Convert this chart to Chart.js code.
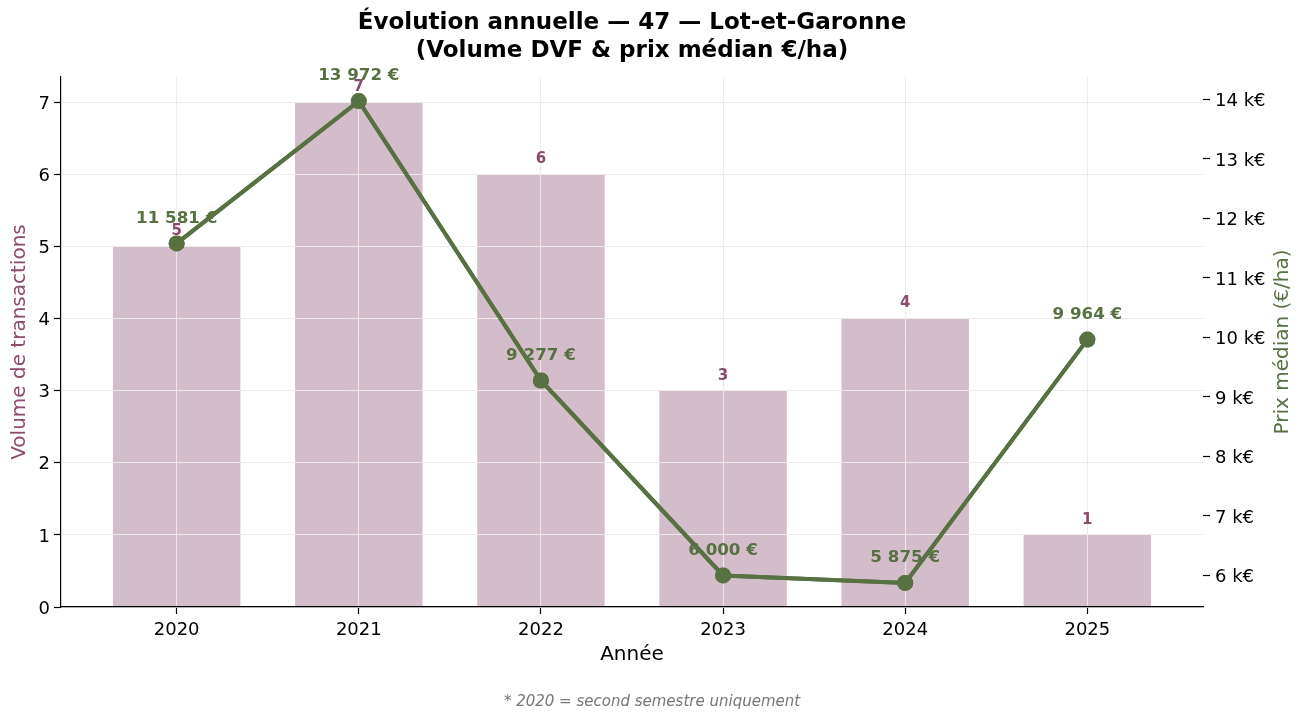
<!DOCTYPE html>
<html>
<head>
<meta charset="utf-8">
<script src="https://cdn.jsdelivr.net/npm/chart.js@4.4.0/dist/chart.umd.min.js"></script>
<style>
  html, body { margin: 0; padding: 0; background: #fff; }
  #chart { display: block; }
</style>
</head>
<body>
<canvas id="chart" width="1304" height="719" style="width:1304px;height:719px"></canvas>
<script>
// Data
const years = ['2020', '2021', '2022', '2023', '2024', '2025'];
const volumes = [5, 7, 6, 3, 4, 1];
const prices = [11581, 13972, 9277, 6000, 5875, 9964];
const volumeTicks = [0, 1, 2, 3, 4, 5, 6, 7];
const priceTicks = [6000, 7000, 8000, 9000, 10000, 11000, 12000, 13000, 14000];

const BAR_COLOR = '#d4bdca';
const MAUVE = '#8b4a6e';
const GREEN = '#587142';
const GRID = '#ebebeb';

Chart.defaults.font.family = '"DejaVu Sans", sans-serif';

function euro(v) {
    return String(v).replace(/\B(?=(\d{3})+(?!\d))/g, ' ') + ' €';
}

// Value labels, line redrawn above the grid, right axis title
const overlayPlugin = {
    id: 'overlay',
    afterDraw(chart) {
        const { ctx, scales, chartArea } = chart;

        ctx.save();
        ctx.textAlign = 'center';
        ctx.textBaseline = 'middle';
        ctx.font = 'bold 15px "DejaVu Sans"';
        ctx.fillStyle = MAUVE;
        volumes.forEach((v, i) => {
            ctx.fillText(String(v), scales.x.getPixelForValue(i), scales.y.getPixelForValue(v) - 15);
        });
        ctx.restore();

        chart.getDatasetMeta(1).controller.draw();

        ctx.save();
        ctx.textAlign = 'center';
        ctx.textBaseline = 'middle';
        ctx.font = 'bold 16.7px "DejaVu Sans"';
        ctx.fillStyle = GREEN;
        prices.forEach((p, i) => {
            ctx.fillText(euro(p), scales.x.getPixelForValue(i), scales.y1.getPixelForValue(p) - 25);
        });
        ctx.restore();

        ctx.save();
        ctx.translate(chart.width - 21, (chartArea.top + chartArea.bottom) / 2);
        ctx.rotate(-Math.PI / 2);
        ctx.textAlign = 'center';
        ctx.textBaseline = 'middle';
        ctx.font = '20px "DejaVu Sans"';
        ctx.fillStyle = GREEN;
        ctx.fillText('Prix médian (€/ha)', 0, 0);
        ctx.restore();
    }
};

new Chart(document.getElementById('chart'), {
    type: 'bar',
    data: {
        datasets: [{
            label: 'Volume',
            data: volumes.map((v, i) => ({ x: i, y: v })),
            backgroundColor: BAR_COLOR,
            barPercentage: 0.7,
            categoryPercentage: 1.0,
            xAxisID: 'x',
            yAxisID: 'y',
            order: 2
        }, {
            type: 'line',
            label: 'Prix médian',
            data: prices.map((p, i) => ({ x: i, y: p })),
            borderColor: GREEN,
            backgroundColor: GREEN,
            borderWidth: 4,
            pointRadius: 8,
            pointBorderWidth: 0,
            pointBackgroundColor: GREEN,
            tension: 0,
            xAxisID: 'x',
            yAxisID: 'y1',
            order: 1
        }]
    },
    options: {
        responsive: false,
        animation: false,
        layout: { padding: 0 },
        plugins: {
            legend: { display: false },
            tooltip: { enabled: false },
            title: {
                display: true,
                text: ['Évolution annuelle — 47 — Lot-et-Garonne', '(Volume DVF & prix médian €/ha)'],
                color: '#000',
                font: { size: 23, weight: 'bold', lineHeight: 1.22 },
                padding: { top: 9, bottom: 11.9 },
                fullSize: false
            },
            subtitle: {
                display: true,
                position: 'bottom',
                text: '* 2020 = second semestre uniquement',
                color: '#777',
                font: { size: 15, style: 'italic', lineHeight: 1.2 },
                padding: { top: 6, bottom: 8 },
                fullSize: true
            }
        },
        scales: {
            x: {
                type: 'linear',
                min: -0.635,
                max: 5.635,
                offset: false,
                z: 1,
                afterBuildTicks: s => { s.ticks = years.map((_, i) => ({ value: i })); },
                afterFit: s => { s.height = 80; },
                ticks: {
                    callback: v => years[v],
                    color: '#000',
                    font: { size: 18 },
                    padding: 6,
                    maxRotation: 0,
                    autoSkip: false
                },
                grid: { z: 1, offset: false, color: GRID, lineWidth: 1, tickColor: '#000', tickLength: 7, tickWidth: 1.2 },
                border: { color: '#000', width: 1.2, z: 2 },
                title: { display: true, text: 'Année', color: '#000', font: { size: 20 }, padding: { top: 20, bottom: 20 } }
            },
            y: {
                position: 'left',
                min: 0,
                max: 7.35,
                z: 1,
                afterBuildTicks: s => { s.ticks = volumeTicks.map(v => ({ value: v })); },
                afterFit: s => { s.width = 61; },
                ticks: { color: '#000', font: { size: 18 }, padding: 4, labelOffset: 2 },
                grid: { z: 1, color: GRID, lineWidth: 1, tickColor: '#000', tickLength: 7, tickWidth: 1.2 },
                border: { color: '#000', width: 1.2, z: 2 },
                title: { display: true, text: 'Volume de transactions', color: MAUVE, font: { size: 20 }, padding: { top: 8, bottom: 8 } }
            },
            y1: {
                position: 'right',
                min: 5470,
                max: 14377,
                afterBuildTicks: s => { s.ticks = priceTicks.map(v => ({ value: v })); },
                afterFit: s => { s.width = 101; },
                ticks: { color: '#000', font: { size: 18 }, padding: 5, labelOffset: 2, callback: v => (v / 1000) + ' k€' },
                grid: { drawOnChartArea: false, tickColor: '#000', tickLength: 7, tickWidth: 1.2 },
                border: { display: false }
            }
        }
    },
    plugins: [overlayPlugin]
});
</script>
</body>
</html>
